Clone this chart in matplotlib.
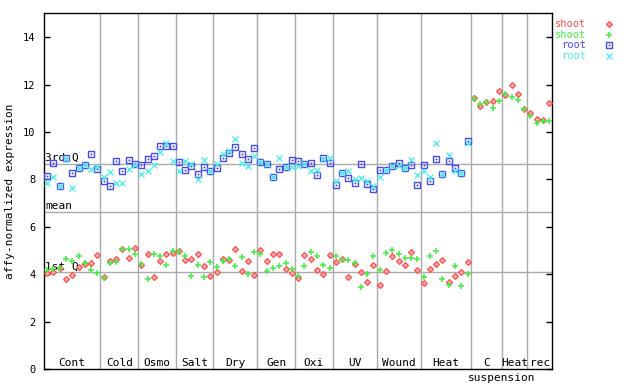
import numpy as np
import matplotlib
matplotlib.use("Agg")
import matplotlib.pyplot as plt
from matplotlib.transforms import blended_transform_factory

plt.rcParams['font.family'] = ['DejaVu Sans Mono']

groups = ["Cont", "Cold", "Osmo", "Salt", "Dry", "Gen", "Oxi", "UV", "Wound", "Heat", "C", "Heat", "rec"]
counts = [9, 6, 6, 6, 7, 6, 6, 7, 7, 8, 5, 4, 4]
suspension_label = "suspension"

shoot_red = [4.05, 4.09, 4.26, 3.80, 3.96, 4.30, 4.43, 4.47, 4.81,
             3.88, 4.55, 4.64, 5.06, 4.68, 5.10,
             4.39, 4.85, 3.88, 4.55, 4.85, 4.90,
             4.98, 4.60, 4.64, 4.85, 4.34, 3.92,
             4.09, 4.64, 4.60, 5.06, 4.13, 4.55, 3.96,
             5.02, 4.55, 4.85, 4.85, 4.22, 4.05,
             3.85, 4.81, 4.64, 4.17, 4.01, 4.81,
             4.51, 4.64, 3.88, 4.43, 4.09, 3.70, 4.39,
             3.55, 4.13, 4.77, 4.56, 4.39, 4.93, 4.17,
             3.65, 4.22, 4.43, 4.60, 3.70, 3.92, 4.09, 4.51,
             11.43, 11.09, 11.26, 11.30, 11.72,
             11.55, 11.98, 11.60, 10.96,
             10.80, 10.54, 10.50, 11.22]
shoot_green = [4.17, 4.22, 4.26, 4.64, 4.55, 4.77, 4.47, 4.17, 4.05,
               3.84, 4.47, 4.51, 5.06, 5.06, 4.85,
               4.42, 3.80, 4.85, 4.77, 4.39, 4.98,
               4.93, 4.77, 3.92, 4.39, 3.88, 4.51,
               4.30, 4.55, 4.64, 4.34, 4.72, 4.00, 4.93,
               4.85, 4.13, 4.26, 4.34, 4.47, 4.22,
               3.92, 4.34, 4.93, 4.77, 4.39, 4.26,
               4.77, 4.60, 4.60, 4.47, 3.45, 4.03, 4.77,
               4.17, 4.89, 5.02, 4.85, 4.68, 4.68, 4.64,
               3.88, 4.77, 4.98, 3.81, 3.55, 4.34, 3.50, 4.00,
               11.39, 11.18, 11.26, 11.01, 11.30,
               11.60, 11.47, 11.34, 10.99,
               10.67, 10.37, 10.46, 10.46]
root_blue = [8.14, 8.69, 7.74, 8.90, 8.27, 8.48, 8.60, 9.07, 8.43,
             7.93, 7.72, 8.77, 8.35, 8.81, 8.64,
             8.60, 8.86, 8.98, 9.40, 9.40, 9.40,
             8.73, 8.39, 8.56, 8.22, 8.52, 8.35,
             8.48, 8.90, 9.11, 9.36, 9.07, 8.86, 9.32,
             8.73, 8.64, 8.10, 8.43, 8.52, 8.81,
             8.77, 8.64, 8.69, 8.18, 8.90, 8.69,
             7.76, 8.27, 8.05, 7.84, 8.64, 7.80, 7.59,
             8.39, 8.39, 8.56, 8.69, 8.48, 8.60, 7.76,
             8.60, 7.93, 8.86, 8.22, 8.77, 8.48, 8.27, 9.61]
root_cyan = [7.84, 8.10, 7.74, 8.88, 7.63, 8.48, 8.60, 8.43, 8.54,
             8.10, 8.31, 7.84, 7.84, 8.43, 8.60,
             8.22, 8.35, 8.60, 9.15, 9.53, 8.78,
             8.35, 8.78, 8.64, 8.01, 8.81, 8.35,
             8.64, 9.07, 9.19, 9.70, 8.69, 8.56, 8.98,
             8.73, 8.64, 8.10, 8.90, 8.52, 8.52,
             8.56, 8.64, 8.35, 8.39, 8.88, 8.90,
             7.93, 8.27, 8.35, 8.01, 8.05, 7.93, 7.72,
             8.10, 8.39, 8.56, 8.56, 8.48, 8.81, 8.18,
             8.35, 8.10, 9.53, 8.22, 9.02, 8.35, 8.27, 9.53]

ref_names = ["3rd Q", "mean", "1st Q"]
ref_values = [8.67, 6.61, 4.08]

legend_labels = ["shoot", "shoot", "root", "root"]

RED = '#ff4c4c'
GREEN = '#44ee44'
BLUE = '#4848ee'
CYAN = '#44eeee'
GRAY = '#aaaaaa'

n_total = sum(counts)
xs = np.arange(n_total) + 0.5
xr = np.arange(len(root_blue)) + 0.5

fig = plt.figure(figsize=(6.4, 3.84), dpi=100)
ax = fig.add_axes([44/640, 1 - 369.3/384, (552.3 - 44)/640, (369.3 - 13.4)/384])
ax.set_xlim(0, n_total)
ax.set_ylim(0, 15)

bounds = np.cumsum(counts)
for b in bounds[:-1]:
    ax.axvline(b, color=GRAY, lw=1, zorder=1)
for v in ref_values:
    ax.axhline(v, color=GRAY, lw=1, zorder=1)
for name, v in zip(ref_names, ref_values):
    ax.text(0.15, v + 0.05, name, fontsize=8, ha='left', va='bottom', color='black', zorder=2)

def draw_series(axis, x, y, kind, **kw):
    if kind == 'red':
        axis.plot(x, y, ls='none', marker='D', ms=3.0, mec=RED, mfc='#ffb0b0', mew=0.9, **kw)
    elif kind == 'green':
        axis.plot(x, y, ls='none', marker='+', ms=5, mec=GREEN, mew=1.1, **kw)
    elif kind == 'blue':
        axis.plot(x, y, ls='none', marker='s', ms=4.0, mec=BLUE, mfc='none', mew=1.0, **kw)
        axis.plot(x, y, ls='none', marker='s', ms=0.9, mec=BLUE, mfc=BLUE, mew=0.3, **kw)
    elif kind == 'cyan':
        axis.plot(x, y, ls='none', marker='x', ms=4.0, mec=CYAN, mew=0.9, **kw)

draw_series(ax, xr, root_blue, 'blue', zorder=3)
draw_series(ax, xr, root_cyan, 'cyan', zorder=3)
draw_series(ax, xs, shoot_red, 'red', zorder=3)
draw_series(ax, xs, shoot_green, 'green', zorder=3)

trans = blended_transform_factory(ax.transData, ax.transAxes)
starts = np.concatenate([[0], bounds[:-1]])
for g, s, e in zip(groups, starts, bounds):
    ax.text((s + e) / 2, 0.009, g, transform=trans, ha='center', va='baseline', fontsize=8)
ax.text(bounds[9] + 5, -0.011, suspension_label, transform=trans, ha='center', va='top', fontsize=8)

ax.set_yticks(np.arange(0, 15, 2))
ax.tick_params(axis='y', which='both', direction='in', length=4.2, width=1, left=True, right=True,
               labelsize=7.5, pad=6)
ax.set_xticks([])
for sp in ax.spines.values():
    sp.set_linewidth(1)

fig.text(10/640, 1 - 191/384, "affy-normalized expression", rotation=90, ha='center', va='center', fontsize=8)

leg_y = [24, 34.7, 45, 56.3]
leg_colors = [RED, GREEN, BLUE, CYAN]
leg_kinds = ['red', 'green', 'blue', 'cyan']
for lab, yy, c, k in zip(legend_labels, leg_y, leg_colors, leg_kinds):
    fy = 1 - yy / 384
    fig.text(586/640, fy, lab, color=c, ha='right', va='center', fontsize=7.5)
    draw_series(ax, [609/640], [fy], k, transform=fig.transFigure, clip_on=False)

fig.savefig("out.png", dpi=100)
